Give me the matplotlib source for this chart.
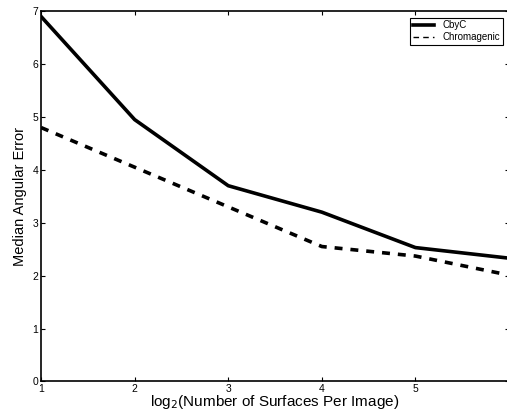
import numpy as np
import matplotlib.pyplot as plt

plt.rcParams['font.family'] = ['Liberation Sans', 'DejaVu Sans']

# data
log_surfaces = [1, 2, 3, 4, 5, 6]
cbyc_error = [6.9, 4.95, 3.7, 3.2, 2.53, 2.33]
chromagenic_error = [4.8, 4.05, 3.3, 2.55, 2.37, 2.01]

fig = plt.figure(figsize=(5.07, 4.15), dpi=100)
ax = fig.add_axes([0.081, 0.081, 0.923, 0.892])

ax.plot(log_surfaces, cbyc_error, color='black', linewidth=2.6, label='CbyC')
ax.plot(log_surfaces, chromagenic_error, color='black', linewidth=2.6,
        linestyle=(0, (2.2, 2.2)), label='Chromagenic')

ax.set_xlim(1, 6)
ax.set_ylim(0, 7)
# the "6" label falls off the right edge of the figure, so leave it blank
ax.set_xticks([1, 2, 3, 4, 5, 6])
ax.set_xticklabels(['1', '2', '3', '4', '5', ''])
ax.set_yticks(range(0, 8))
ax.tick_params(direction='in', top=True, right=True, labelsize=7.5,
               length=3, width=0.8, pad=2)
for s in ax.spines.values():
    s.set_linewidth(1.2)

ax.set_xlabel('log$_2$(Number of Surfaces Per Image)', fontsize=11, labelpad=-1)
ax.set_ylabel('Median Angular Error', fontsize=10.5, labelpad=4)

leg = ax.legend(loc='upper right', fontsize=7, frameon=True, fancybox=False,
                edgecolor='black', framealpha=1, borderaxespad=0.65,
                handlelength=2.2, borderpad=0.3, labelspacing=0.2)
leg.get_frame().set_linewidth(0.8)
handles = leg.get_lines()
handles[0].set_linewidth(2.6)
handles[1].set_linewidth(1.0)
handles[1].set_dashes([4, 3])

fig.savefig('out.png', dpi=100)
